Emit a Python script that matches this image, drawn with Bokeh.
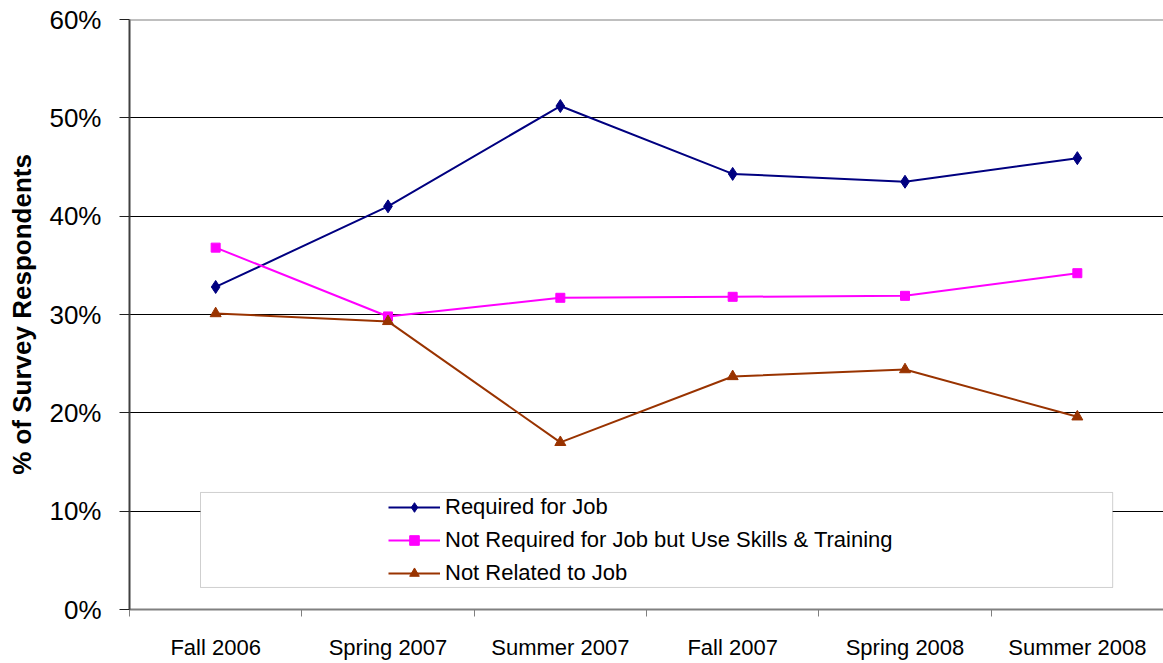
from bokeh.plotting import figure
from bokeh.models import (Range1d, FixedTicker, PrintfTickFormatter,
                          Legend, LegendItem, BoxAnnotation, Span)
from bokeh.embed import file_html
from bokeh.resources import INLINE

# ---- data ----
categories = ["Fall 2006", "Spring 2007", "Summer 2007", "Fall 2007", "Spring 2008", "Summer 2008"]
required = [32.8, 41.0, 51.2, 44.3, 43.5, 45.9]
not_required = [36.8, 29.8, 31.7, 31.8, 31.9, 34.2]
not_related = [30.1, 29.3, 17.0, 23.7, 24.4, 19.6]
series_names = ["Required for Job",
                "Not Required for Job but Use Skills & Training",
                "Not Related to Job"]
y_ticks = [0, 10, 20, 30, 40, 50, 60]
y_title = "% of Survey Respondents"

FONT = "Liberation Sans"
n = len(categories)
y_max = y_ticks[-1]
centres = [i + 0.5 for i in range(n)]   # category slot centres on the x scale

p = figure(x_range=Range1d(0, n), y_range=Range1d(0, y_max),
           width=1163, height=663, output_backend="svg", toolbar_location=None,
           min_border_left=129, min_border_right=0, min_border_top=19, min_border_bottom=54)
p.outline_line_color = None
p.background_fill_color = "white"

# x axis: labels at category centres, tick marks at category boundaries
xa = p.xaxis[0]
xa.ticker = FixedTicker(ticks=centres, minor_ticks=list(range(n + 1)))
xa.major_label_overrides = {c: lab for c, lab in zip(centres, categories)}
xa.major_tick_line_color = None
xa.major_tick_out = 0
xa.major_tick_in = 0
xa.minor_tick_line_color = "#808080"
xa.minor_tick_out = 7
xa.minor_tick_in = 0
xa.axis_line_color = "#808080"
xa.axis_line_width = 2
xa.major_label_text_font = FONT
xa.major_label_text_font_size = "22px"
xa.major_label_text_color = "black"
xa.major_label_standoff = 18

# y axis
ya = p.yaxis[0]
ya.ticker = FixedTicker(ticks=y_ticks)
ya.formatter = PrintfTickFormatter(format="%d%%")
ya.axis_line_color = "#404040"
ya.axis_line_width = 2
ya.major_tick_line_color = "#202020"
ya.major_tick_out = 10
ya.major_tick_in = 0
ya.minor_tick_line_color = None
ya.major_label_text_font = FONT
ya.major_label_text_font_size = "26px"
ya.major_label_text_color = "black"
ya.major_label_standoff = 18
ya.axis_label = y_title
ya.axis_label_text_font = FONT
ya.axis_label_text_font_size = "26px"
ya.axis_label_text_font_style = "bold"
ya.axis_label_text_color = "black"
ya.axis_label_standoff = 9

p.ygrid.ticker = FixedTicker(ticks=y_ticks)
p.ygrid.grid_line_color = "black"
p.ygrid.grid_line_width = 1
p.xgrid.grid_line_color = None
p.add_layout(Span(location=y_max, dimension="width", line_color="#808080", line_width=2))

# series
styles = [("#000080", "diamond", 13), ("#FF00FF", "square", 9), ("#993300", "triangle", 11)]
items = []
for name, vals, (col, mk, sz) in zip(series_names, [required, not_required, not_related], styles):
    lr = p.line(x=centres, y=vals, line_color=col, line_width=2)
    sr = p.scatter(x=centres, y=vals, marker=mk, size=sz, fill_color=col, line_color=col)
    items.append(LegendItem(label=name, renderers=[lr, sr]))

# legend box
box = BoxAnnotation(left=0.412, right=5.705, bottom=2.24, top=11.9,
                    fill_color="white", fill_alpha=1.0, line_color="#606060", line_width=1,
                    level="overlay")
p.add_layout(box)

legend = Legend(items=items, location=(259, 23), orientation="vertical",
                background_fill_alpha=0, border_line_color=None, padding=0, margin=0,
                spacing=7, glyph_width=52, glyph_height=24, label_height=24, label_standoff=5,
                label_text_font=FONT, label_text_font_size="22px", label_text_color="black",
                level="overlay")
p.add_layout(legend, "center")

open("out.html", "w").write(file_html(p, INLINE))
